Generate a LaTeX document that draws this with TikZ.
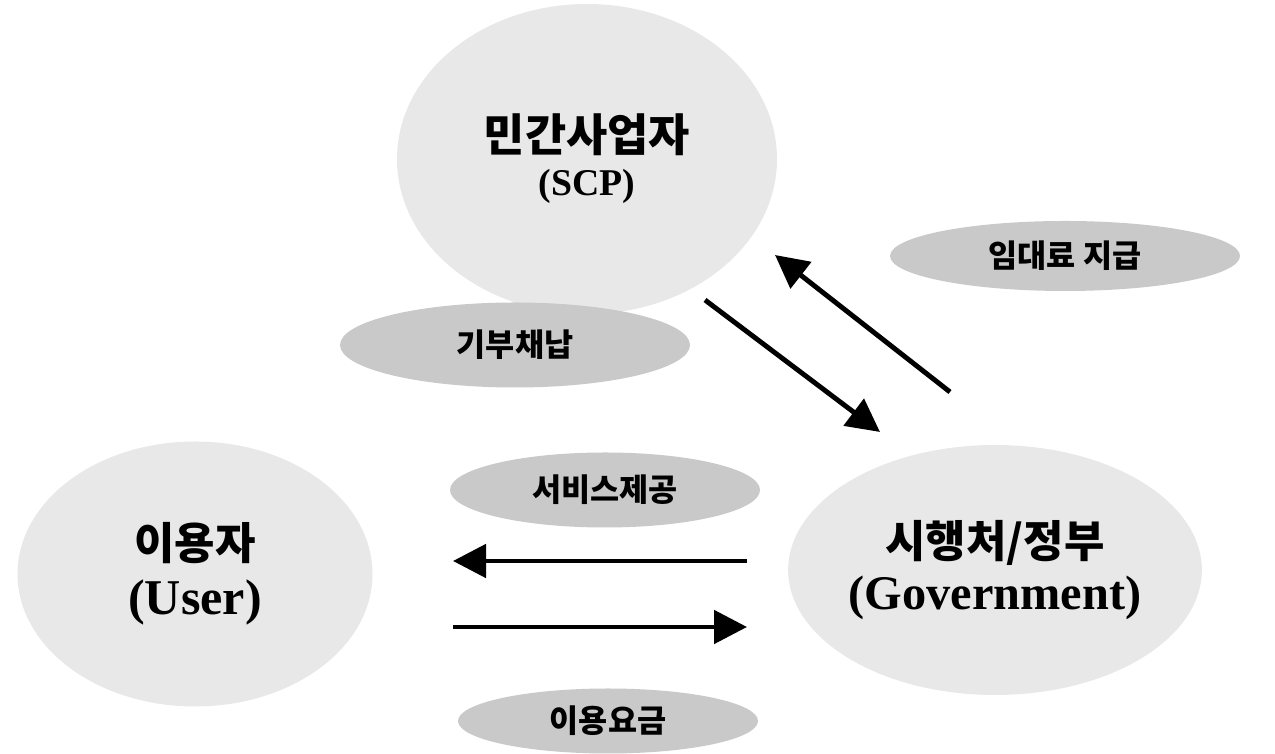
\documentclass[tikz,border=0pt]{standalone}
\usepackage{fontspec}
\setmainfont{Liberation Serif}
\newfontfamily\kr{Noto Sans CJK KR}
\usetikzlibrary{arrows.meta, shapes.geometric}

\begin{document}
\begin{tikzpicture}[
    party/.style={ellipse, fill=gray!18, inner sep=0pt, align=center},
    tag/.style={ellipse, fill=gray!42, inner sep=0pt, font=\kr\bfseries\fontsize{18}{20}\selectfont},
    flow/.style={line width=2.8pt, -{Triangle[length=0.66cm, width=0.66cm]}}
]
    \useasboundingbox (0,0) rectangle (25.5,15.08);
    % parties
    \node[party, minimum width=7.6cm, minimum height=6.2cm, font=\bfseries\fontsize{21.5}{25}\selectfont] (scp) at (11.74,11.9)
        {{\kr\fontsize{25.5}{25}\selectfont 민간사업자}\\(SCP)};
    \node[party, minimum width=7.1cm, minimum height=5.3cm, font=\bfseries\fontsize{28.5}{31}\selectfont] (usr) at (3.9,3.6)
        {{\kr\fontsize{25}{31}\selectfont 이용자}\\(User)};
    \node[party, minimum width=7.0cm, minimum height=5.0cm, font=\bfseries\fontsize{27.5}{30}\selectfont] (gov) at (19.9,3.68)
        {{\kr\fontsize{25}{30}\selectfont 시행처/정부}\\(Government)};
    % flow labels
    \node[tag, minimum width=7.0cm, minimum height=1.4cm] (rent) at (21.3,9.96) {임대료 지급};
    \node[tag, minimum width=7.0cm, minimum height=1.7cm] (gift) at (10.3,8.18) {기부채납};
    \node[tag, minimum width=6.2cm, minimum height=1.5cm] (serv) at (12.1,5.28) {서비스제공};
    \node[tag, minimum width=6.0cm, minimum height=1.3cm] (fee) at (12.16,0.66) {이용요금};
    % arrow ends
    \coordinate (s2g) at (14.1,9.08);
    \coordinate (g2s) at (17.6,6.44);
    \coordinate (g2sb) at (19.0,7.24);
    \coordinate (s2gb) at (15.5,9.98);
    \coordinate (g2u) at (14.94,3.86);
    \coordinate (u2g) at (9.06,3.86);
    \coordinate (u2gb) at (9.06,2.54);
    \coordinate (g2ub) at (14.94,2.54);
    \draw
    (s2g) edge[flow] (g2s)
    (g2sb) edge[flow] (s2gb)
    (g2u) edge[flow] (u2g)
    (u2gb) edge[flow] (g2ub);
\end{tikzpicture}
\end{document}
